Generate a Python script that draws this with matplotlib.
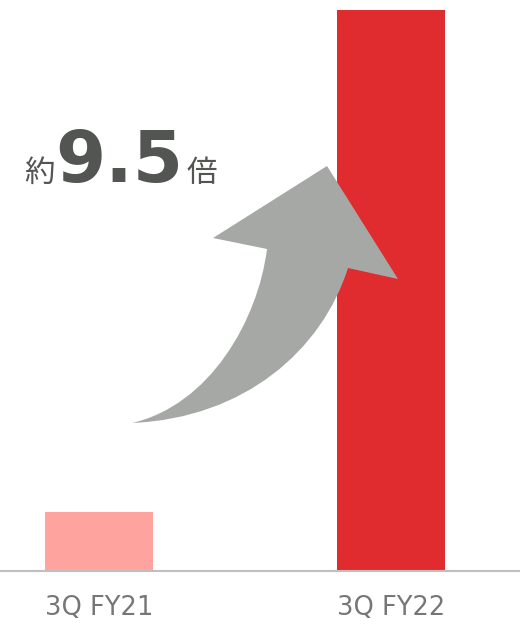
import matplotlib
matplotlib.use("Agg")
import matplotlib.pyplot as plt
from matplotlib.path import Path
from matplotlib.patches import PathPatch
from matplotlib.transforms import Affine2D

# Data
categories = ["3Q FY21", "3Q FY22"]
values = [1.0, 9.5]
bar_colors = ["#ffa39e", "#e02b2f"]
multiple_label = "9.5"

W, H = 520, 626
fig = plt.figure(figsize=(W / 100, H / 100), dpi=100)
ax = fig.add_axes([0, (H - 571) / H, 1, 571 / H])

x = list(range(len(categories)))
ax.bar(x, values, width=0.37, color=bar_colors, zorder=2)
ax.set_xlim(-0.339, 1.442)
ax.set_ylim(0, 9.67)

for s in ["top", "left", "right"]:
    ax.spines[s].set_visible(False)
ax.spines["bottom"].set_color("#bfbfbf")
ax.spines["bottom"].set_linewidth(1.5)
ax.set_yticks([])
ax.set_xticks(x)
ax.set_xticklabels(categories, fontsize=18.5, color="#767676",
                   family="DejaVu Sans")
ax.tick_params(axis="x", length=0, pad=17)

# Curved growth arrow, defined in pixel coordinates from the top-left corner
px = Affine2D().scale(1 / 100, -1 / 100).translate(0, H / 100) + fig.dpi_scale_trans
verts = [
    (132, 423),
    (210, 405), (258, 320), (267, 249),
    (213, 238),
    (327, 166),
    (398, 279),
    (348, 268),
    (322, 350), (245, 418), (132, 423),
    (132, 423),
]
codes = [Path.MOVETO,
         Path.CURVE4, Path.CURVE4, Path.CURVE4,
         Path.LINETO, Path.LINETO, Path.LINETO, Path.LINETO,
         Path.CURVE4, Path.CURVE4, Path.CURVE4,
         Path.CLOSEPOLY]
arrow = PathPatch(Path(verts, codes), facecolor="#a6a8a5", edgecolor="none",
                  transform=px, zorder=5)
fig.add_artist(arrow)

# Multiplier callout
txt_color = "#535553"
fig.text(24 / W, 1 - 182 / H, "約", fontsize=22, color=txt_color,
         family=["Noto Sans CJK JP", "DejaVu Sans"], ha="left", va="baseline")
fig.text(55 / W, 1 - 182 / H, multiple_label, fontsize=52, color=txt_color,
         family="DejaVu Sans", fontweight="bold", ha="left", va="baseline")
fig.text(187 / W, 1 - 182 / H, "倍", fontsize=22, color=txt_color,
         family=["Noto Sans CJK JP", "DejaVu Sans"], ha="left", va="baseline")

fig.savefig("out.png", dpi=100)
